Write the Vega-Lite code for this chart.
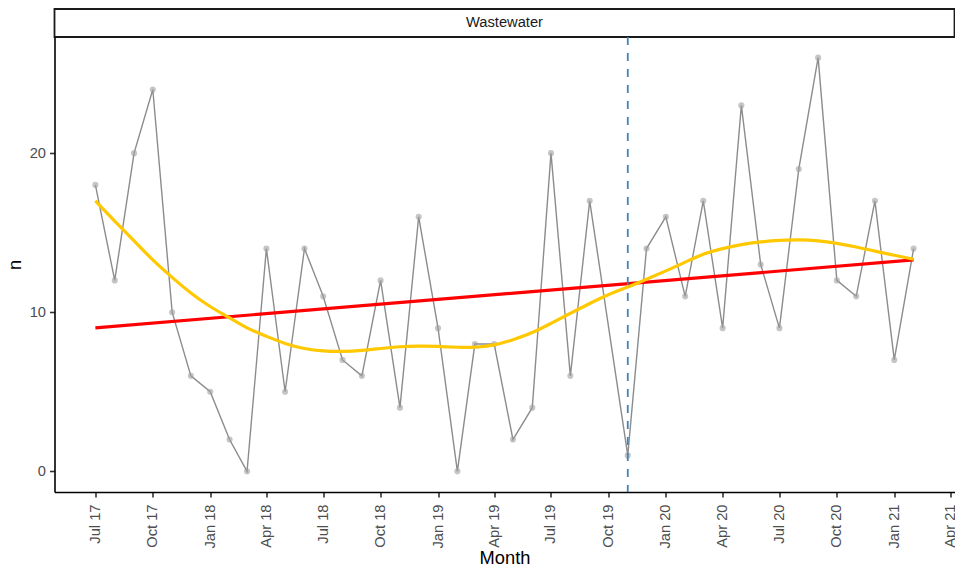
{
  "$schema": "https://vega.github.io/schema/vega-lite/v6.json",
  "background": "white",
  "padding": {"left": 4.5, "top": 8, "right": 0, "bottom": 0},
  "spacing": 0,
  "bounds": "flush",
  "config": {
    "font": "Liberation Sans",
    "view": {"stroke": null},
    "axis": {
      "grid": false,
      "labelFont": "Liberation Sans",
      "titleFont": "Liberation Sans",
      "labelFontSize": 14.7,
      "labelColor": "#4d4d4d",
      "titleFontSize": 18.3,
      "titleFontWeight": "normal",
      "titleColor": "black",
      "domainColor": "black",
      "domainWidth": 1.6,
      "tickColor": "#333333",
      "tickWidth": 1.6,
      "tickSize": 5
    }
  },
  "datasets": {
    "counts": [
      {"date": "2017-07-01", "n": 18},
      {"date": "2017-08-01", "n": 12},
      {"date": "2017-09-01", "n": 20},
      {"date": "2017-10-01", "n": 24},
      {"date": "2017-11-01", "n": 10},
      {"date": "2017-12-01", "n": 6},
      {"date": "2018-01-01", "n": 5},
      {"date": "2018-02-01", "n": 2},
      {"date": "2018-03-01", "n": 0},
      {"date": "2018-04-01", "n": 14},
      {"date": "2018-05-01", "n": 5},
      {"date": "2018-06-01", "n": 14},
      {"date": "2018-07-01", "n": 11},
      {"date": "2018-08-01", "n": 7},
      {"date": "2018-09-01", "n": 6},
      {"date": "2018-10-01", "n": 12},
      {"date": "2018-11-01", "n": 4},
      {"date": "2018-12-01", "n": 16},
      {"date": "2019-01-01", "n": 9},
      {"date": "2019-02-01", "n": 0},
      {"date": "2019-03-01", "n": 8},
      {"date": "2019-04-01", "n": 8},
      {"date": "2019-05-01", "n": 2},
      {"date": "2019-06-01", "n": 4},
      {"date": "2019-07-01", "n": 20},
      {"date": "2019-08-01", "n": 6},
      {"date": "2019-09-01", "n": 17},
      {"date": "2019-11-01", "n": 1},
      {"date": "2019-12-01", "n": 14},
      {"date": "2020-01-01", "n": 16},
      {"date": "2020-02-01", "n": 11},
      {"date": "2020-03-01", "n": 17},
      {"date": "2020-04-01", "n": 9},
      {"date": "2020-05-01", "n": 23},
      {"date": "2020-06-01", "n": 13},
      {"date": "2020-07-01", "n": 9},
      {"date": "2020-08-01", "n": 19},
      {"date": "2020-09-01", "n": 26},
      {"date": "2020-10-01", "n": 12},
      {"date": "2020-11-01", "n": 11},
      {"date": "2020-12-01", "n": 17},
      {"date": "2021-01-01", "n": 7},
      {"date": "2021-02-01", "n": 14}
    ],
    "smooth": [
      {"date": "2017-07-01", "fit": 17.0},
      {"date": "2017-08-01", "fit": 15.73},
      {"date": "2017-09-01", "fit": 14.49},
      {"date": "2017-10-01", "fit": 13.29},
      {"date": "2017-11-01", "fit": 12.19},
      {"date": "2017-12-01", "fit": 11.21},
      {"date": "2018-01-01", "fit": 10.36},
      {"date": "2018-02-01", "fit": 9.64},
      {"date": "2018-03-01", "fit": 9.02},
      {"date": "2018-04-01", "fit": 8.49},
      {"date": "2018-05-01", "fit": 8.04},
      {"date": "2018-06-01", "fit": 7.72},
      {"date": "2018-07-01", "fit": 7.57},
      {"date": "2018-08-01", "fit": 7.54},
      {"date": "2018-09-01", "fit": 7.6},
      {"date": "2018-10-01", "fit": 7.72},
      {"date": "2018-11-01", "fit": 7.83},
      {"date": "2018-12-01", "fit": 7.87},
      {"date": "2019-01-01", "fit": 7.85},
      {"date": "2019-02-01", "fit": 7.8},
      {"date": "2019-03-01", "fit": 7.8},
      {"date": "2019-04-01", "fit": 7.95},
      {"date": "2019-05-01", "fit": 8.27},
      {"date": "2019-06-01", "fit": 8.72},
      {"date": "2019-07-01", "fit": 9.3},
      {"date": "2019-08-01", "fit": 9.93},
      {"date": "2019-09-01", "fit": 10.55},
      {"date": "2019-10-01", "fit": 11.1},
      {"date": "2019-11-01", "fit": 11.58},
      {"date": "2019-12-01", "fit": 12.07},
      {"date": "2020-01-01", "fit": 12.6},
      {"date": "2020-02-01", "fit": 13.15},
      {"date": "2020-03-01", "fit": 13.65},
      {"date": "2020-04-01", "fit": 14.0},
      {"date": "2020-05-01", "fit": 14.25},
      {"date": "2020-06-01", "fit": 14.42},
      {"date": "2020-07-01", "fit": 14.52},
      {"date": "2020-08-01", "fit": 14.55},
      {"date": "2020-09-01", "fit": 14.49},
      {"date": "2020-10-01", "fit": 14.33},
      {"date": "2020-11-01", "fit": 14.1},
      {"date": "2020-12-01", "fit": 13.84},
      {"date": "2021-01-01", "fit": 13.58},
      {"date": "2021-02-01", "fit": 13.33}
    ],
    "intervention": [{"date": "2019-11-01"}],
    "strip": [{"label": "Wastewater"}]
  },
  "vconcat": [
    {
      "width": 900,
      "height": 28,
      "view": {"stroke": "#1a1a1a", "strokeWidth": 1.8, "fill": "white"},
      "data": {"name": "strip"},
      "mark": {"type": "text", "fontSize": 14.7, "color": "#1a1a1a", "font": "Liberation Sans", "baseline": "middle", "align": "center"},
      "encoding": {"text": {"field": "label", "type": "nominal"}}
    },
    {
      "width": 900,
      "height": 455,
      "view": {"stroke": null},
      "encoding": {
        "x": {
          "field": "date",
          "type": "temporal",
          "scale": {
            "type": "utc",
            "domain": [
              {"year": 2017, "month": 4, "date": 26, "hours": 12, "utc": true},
              {"year": 2021, "month": 4, "date": 7, "hours": 12, "utc": true}
            ]
          },
          "axis": {
            "title": "Month",
            "format": "%b %y",
            "labelAngle": 270,
            "labelPadding": 7,
            "titlePadding": 1,
            "labelOverlap": false,
            "labelFlush": false,
            "values": [
              {"year": 2017, "month": 7, "date": 1, "utc": true},
              {"year": 2017, "month": 10, "date": 1, "utc": true},
              {"year": 2018, "month": 1, "date": 1, "utc": true},
              {"year": 2018, "month": 4, "date": 1, "utc": true},
              {"year": 2018, "month": 7, "date": 1, "utc": true},
              {"year": 2018, "month": 10, "date": 1, "utc": true},
              {"year": 2019, "month": 1, "date": 1, "utc": true},
              {"year": 2019, "month": 4, "date": 1, "utc": true},
              {"year": 2019, "month": 7, "date": 1, "utc": true},
              {"year": 2019, "month": 10, "date": 1, "utc": true},
              {"year": 2020, "month": 1, "date": 1, "utc": true},
              {"year": 2020, "month": 4, "date": 1, "utc": true},
              {"year": 2020, "month": 7, "date": 1, "utc": true},
              {"year": 2020, "month": 10, "date": 1, "utc": true},
              {"year": 2021, "month": 1, "date": 1, "utc": true},
              {"year": 2021, "month": 4, "date": 1, "utc": true}
            ]
          }
        }
      },
      "layer": [
        {
          "data": {"name": "counts"},
          "mark": {"type": "line", "color": "#8c8c8c", "strokeWidth": 1.4},
          "encoding": {
            "y": {
              "field": "n",
              "type": "quantitative",
              "scale": {"domain": [-1.3, 27.3], "nice": false, "zero": false},
              "axis": {"title": "n", "values": [0, 10, 20], "labelPadding": 4, "titlePadding": 5}
            }
          }
        },
        {
          "data": {"name": "counts"},
          "mark": {"type": "circle", "size": 38, "color": "#a0a0a0", "opacity": 0.6},
          "encoding": {"y": {"field": "n", "type": "quantitative"}}
        },
        {
          "data": {"name": "counts"},
          "transform": [{"regression": "n", "on": "date"}],
          "mark": {"type": "line", "color": "#ff0000", "strokeWidth": 3.2},
          "encoding": {"y": {"field": "n", "type": "quantitative"}}
        },
        {
          "data": {"name": "smooth"},
          "mark": {"type": "line", "color": "#ffc800", "strokeWidth": 3.2, "interpolate": "natural"},
          "encoding": {"y": {"field": "fit", "type": "quantitative"}}
        },
        {
          "data": {"name": "intervention"},
          "mark": {"type": "rule", "color": "#4682b4", "strokeWidth": 1.8, "strokeDash": [8, 8]},
          "encoding": {}
        }
      ]
    }
  ]
}
